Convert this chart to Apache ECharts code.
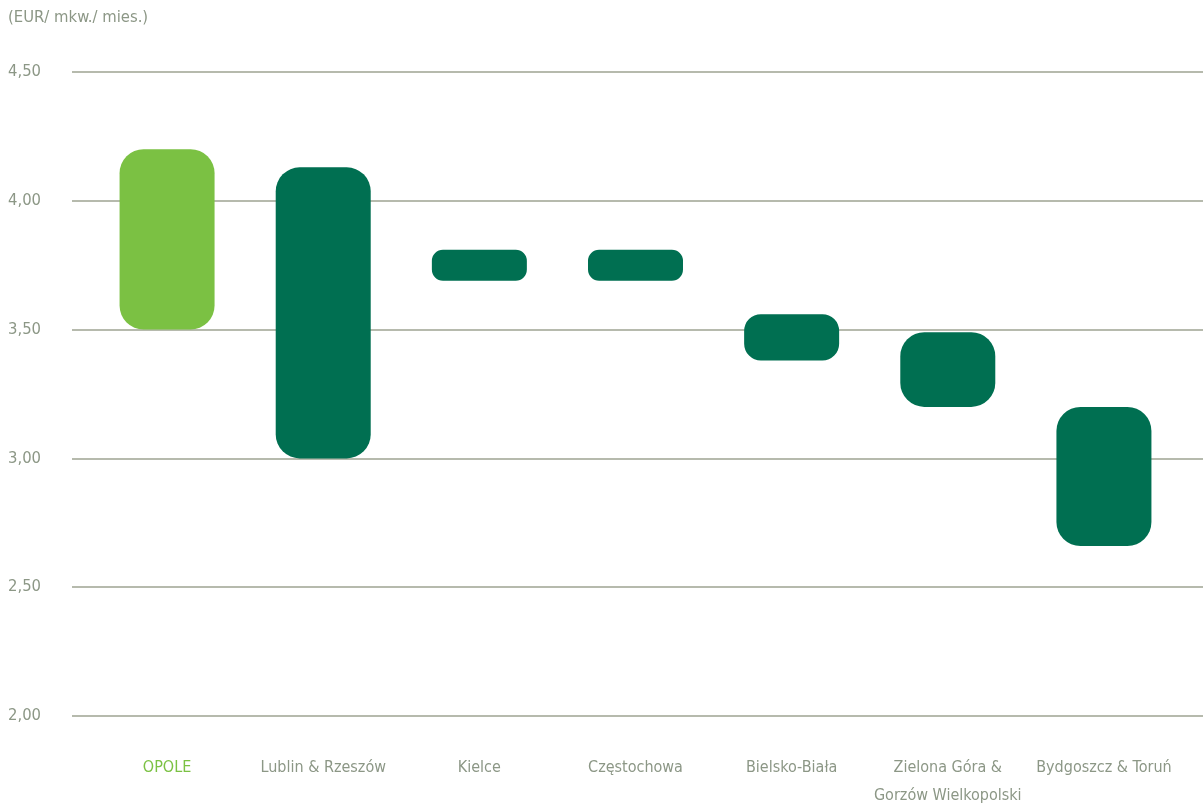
<!DOCTYPE html>
<html>
<head>
<meta charset="utf-8">
<script src="https://cdn.jsdelivr.net/npm/echarts@6/dist/echarts.min.js"></script>
<style>
  html, body { margin: 0; padding: 0; background: #ffffff; }
  #chart { width: 1203px; height: 809px; }
</style>
</head>
<body>
<div id="chart"></div>
<script>
// Rent ranges per city (EUR / m² / month)
const categories = ['OPOLE', 'Lublin & Rzeszów', 'Kielce', 'Częstochowa', 'Bielsko-Biała', 'Zielona Góra &\nGorzów Wielkopolski', 'Bydgoszcz & Toruń'];
const lowValues  = [3.50, 3.00, 3.69, 3.69, 3.38, 3.20, 2.66];
const highValues = [4.20, 4.13, 3.81, 3.81, 3.56, 3.49, 3.20];
const yTicks = [2.0, 2.5, 3.0, 3.5, 4.0, 4.5];
const unitLabel = '(EUR/ mkw./ mies.)';

const FONT = '"Liberation Sans Narrow", "DejaVu Sans Condensed", "Roboto Condensed", sans-serif';
const TEXT = '#8c9786';
const GRID_LINE = '#9ea392';
const LIGHT = '#7bc143';
const DARK = '#006f51';

const chart = echarts.init(document.getElementById('chart'), null, { renderer: 'canvas' });

const rangeData = categories.map((c, i) => [i, lowValues[i], highValues[i]]);

chart.setOption({
  backgroundColor: '#ffffff',
  animation: false,
  textStyle: { fontFamily: FONT },
  graphic: [{
    type: 'text', left: 8, top: 9,
    style: { text: unitLabel, fill: TEXT, font: '16.5px ' + FONT }
  }],
  grid: [
    // bars
    { left: 89, right: 21, top: 72, bottom: 93, containLabel: false, outerBoundsMode: 'none' },
    // horizontal rules + value labels
    { left: 72, right: 0, top: 72, bottom: 93, containLabel: false, outerBoundsMode: 'none' }
  ],
  xAxis: [
    {
      type: 'category', gridIndex: 0, data: categories,
      axisLine: { show: false }, axisTick: { show: false },
      axisLabel: {
        interval: 0, margin: 38, fontSize: 16, lineHeight: 28, fontFamily: FONT,
        color: (v, i) => i === 0 ? LIGHT : TEXT
      }
    },
    { type: 'value', gridIndex: 1, show: false, min: 0, max: 1 }
  ],
  yAxis: [
    { type: 'value', gridIndex: 0, min: 2, max: 4.5, interval: 0.5, show: false },
    {
      type: 'value', gridIndex: 1, min: 2, max: 4.5, interval: 0.5,
      axisLine: { show: false }, axisTick: { show: false },
      splitLine: { show: true, lineStyle: { color: GRID_LINE, width: 1.5 } },
      axisLabel: {
        align: 'left', margin: 64, fontSize: 16.5, color: TEXT, fontFamily: FONT,
        formatter: v => yTicks.includes(v) ? v.toFixed(2).replace('.', ',') : ''
      }
    }
  ],
  series: [{
    type: 'custom',
    xAxisIndex: 0, yAxisIndex: 0,
    data: rangeData,
    encode: { x: 0, y: [1, 2] },
    renderItem: (params, api) => {
      const idx = api.value(0);
      const top = api.coord([idx, api.value(2)]);
      const bottom = api.coord([idx, api.value(1)]);
      const w = 95;
      const h = bottom[1] - top[1];
      const r = Math.min(24, h * 0.36);
      return {
        type: 'rect',
        shape: { x: top[0] - w / 2, y: top[1], width: w, height: h, r: r },
        style: { fill: params.dataIndex === 0 ? LIGHT : DARK }
      };
    },
    z: 5
  }]
});
</script>
</body>
</html>
